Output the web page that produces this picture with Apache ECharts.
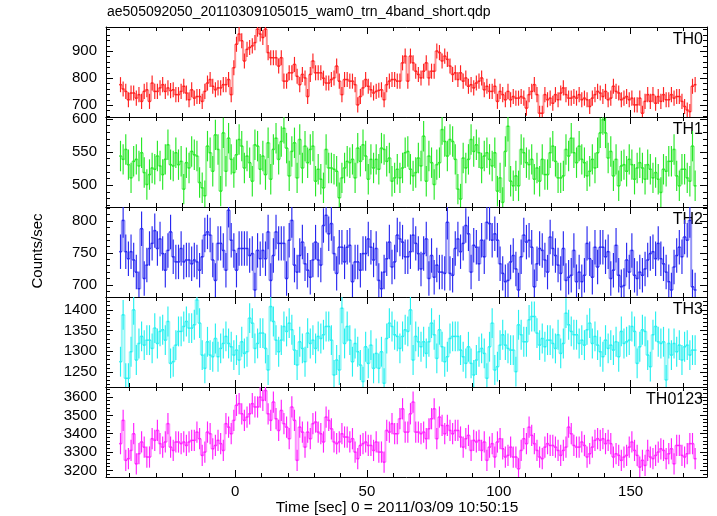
<!DOCTYPE html>
<html><head><meta charset="utf-8">
<script src="https://cdn.jsdelivr.net/npm/echarts@6/dist/echarts.min.js"></script>
<style>html,body{margin:0;padding:0;background:#fff}#c{width:717px;height:516px}</style>
</head><body><div id="c"></div>
<script>
const chartTitle = 'ae505092050_20110309105015_wam0_trn_4band_short.qdp';
const xAxisTitle = 'Time [sec] 0 = 2011/03/09 10:50:15';
const yAxisTitle = 'Counts/sec';
const bandNames = ['TH0', 'TH1', 'TH2', 'TH3', 'TH0123'];
const tStart = -43.5;   // centre of first 1-s bin
const binWidth = 1;
const xMin = -49, xMax = 179;
const xMajorTicks = [0, 50, 100, 150];

const th0 = [
776,760,751,720,745,745,726,739,714,751,757,714,782,751,751,764,776,751,764,754,
757,739,739,751,770,745,720,757,726,732,732,714,751,782,795,770,757,764,764,776,
776,795,739,839,926,964,939,864,907,914,920,932,982,964,951,982,895,876,876,876,
845,876,789,789,820,820,851,807,776,814,801,732,814,864,820,820,820,800,782,782,
795,801,845,789,739,795,795,789,789,776,701,732,764,795,770,757,745,751,755,757,
720,776,789,795,795,789,789,857,882,789,
882,857,826,814,801,826,857,801,826,826,901,895,864,882,870,845,814,820,795,820,
789,801,770,776,764,782,789,801,757,770,751,751,770,714,751,739,720,751,720,732,
726,726,732,726,689,739,751,776,739,670,670,739,720,726,707,739,720,745,764,739,
726,726,732,726,739,720,726,720,695,726,739,751,745,732,751,720,726,770,751,745,
720,726,732,720,726,701,701,726,670,714,739,714,739,707,732,714,739,720,720,739,
726,732,732,714,695,682,676,770,776];

const th1 = [
544,539,554,531,511,536,539,529,549,
519,501,516,526,524,544,529,516,539,561,
531,529,549,531,536,494,534,526,551,
546,544,504,496,484,559,549,521,576,
554,491,579,521,571,539,519,546,569,559,
526,544,534,506,561,559,524,544,516,564,
509,554,571,539,566,586,556,514,551,
564,511,569,526,559,534,554,559,506,
524,509,496,554,526,526,524,521,481,
511,526,536,534,539,511,556,536,561,
544,509,539,526,539,524,556,554,536,541,
506,511,524,511,526,549,551,
524,514,519,541,529,574,506,544,534,
501,531,534,584,566,544,569,566,539,494,
479,541,526,539,569,551,561,549,526,
544,549,539,529,549,491,511,474,551,589,
506,499,514,499,554,549,534,531,539,509,
526,506,539,516,516,549,559,536,511,
511,514,554,544,571,549,534,559,539,
534,514,521,539,526,549,579,599,579,541,
551,514,539,499,529,531,521,539,531,
509,526,534,526,509,531,524,511,519,509,
489,524,521,536,536,554,514,499,524,
524,511,506,559,499];

const th2 = [
752,801,752,741,752,739,720,694,788,
710,731,757,765,785,757,772,749,723,754,
783,744,736,736,757,736,739,739,733,
739,736,723,744,778,783,778,739,707,
765,765,754,723,817,770,754,723,757,757,
757,757,746,749,692,754,741,754,741,
783,707,746,783,765,765,765,710,770,
801,731,720,746,767,733,723,712,739,
767,739,731,793,809,780,796,749,718,759,
759,736,759,762,705,736,736,723,749,
749,772,759,739,757,707,694,720,741,
767,728,736,778,772,767,744,744,
752,778,765,749,725,749,772,710,746,
712,731,720,720,718,798,718,715,757,772,
752,765,793,780,720,762,759,733,770,
744,798,796,770,780,770,733,718,705,
707,736,746,725,692,744,778,767,770,759,
697,733,757,754,739,720,775,757,746,
731,718,757,707,712,715,754,705,720,
705,715,765,741,712,759,728,759,759,744,
752,710,723,762,715,697,699,739,720,
754,715,710,720,715,725,739,749,752,
741,765,741,733,720,705,692,728,746,759,
744,775,770,801,697,692];

const th3 = [
1275,1388,1235,1235,1299,1400,1279,1319,1336,
1315,1327,1327,1307,1356,1319,1348,1352,1327,1372,
1271,1275,1315,1348,1348,1360,1372,1356,1356,
1364,1424,1368,1291,1259,1323,1291,1287,1331,
1287,1307,1319,1336,1319,1311,1291,1303,1279,1323,
1295,1299,1380,1368,1307,1319,1344,1344,1307,
1255,1408,1372,1327,1299,1327,1360,1348,1368,1352,
1303,1267,1323,1307,1275,1344,1319,1327,1307,
1336,1331,1340,1360,1360,1327,1243,1279,1255,1404,
1319,1360,1327,1275,1319,1299,1267,1227,1311,
1271,1315,1259,1295,1259,1299,1223,1331,1368,1360,
1340,1336,1307,1336,1352,1348,
1400,1279,1336,1323,1311,1323,1295,1323,1368,
1340,1283,1352,1311,1275,1287,1331,1336,1336,1336,
1303,1287,1271,1311,1271,1243,1279,1299,1307,
1295,1235,1311,1368,1255,1263,1315,1340,1315,
1307,1303,1303,1251,1364,1340,1323,1323,1376,1384,
1384,1344,1315,1331,1311,1327,1327,1319,1307,
1340,1295,1319,1392,1364,1348,1340,1340,1319,
1327,1315,1352,1368,1319,1336,1315,1299,1287,1327,
1307,1315,1303,1323,1287,1348,1319,1323,1327,
1360,1348,1271,1311,1352,1348,1291,1263,1340,
1360,1323,1319,1323,1231,1319,1291,1319,1299,1315,
1279,1311,1315,1291,1303,1303];

const th0123 = [
3346,3473,3255,3264,3309,3400,3236,3291,3355,
3327,3273,3273,3373,3364,3418,3346,3327,3355,3455,
3327,3309,3355,3355,3346,3355,3336,3355,3364,
3364,3409,3373,3282,3300,3409,3400,3318,3336,
3364,3346,3309,3455,3436,3400,3473,3555,3564,3509,
3473,3491,3509,3564,3546,3546,3600,3582,3636,3509,
3473,3573,3482,3418,3527,3455,3436,3373,3546,
3473,3255,3436,3409,3327,3409,3373,3455,3464,
3409,3400,3355,3491,3473,3427,3355,3346,3355,3400,
3382,3382,3355,3373,3300,3264,3336,3346,3355,
3336,3336,3309,3355,3300,3300,3245,3418,3409,3455,
3400,3400,3482,3536,3409,3409,
3509,3573,3409,3409,3400,3409,3373,3427,3482,
3536,3373,3491,3445,3400,3445,3418,3400,3418,3418,
3382,3327,3373,3391,3309,3364,3355,3364,3309,
3355,3255,3327,3346,3273,3355,3373,3318,3273,3282,
3327,3273,3273,3209,3309,3373,3346,3436,3391,
3346,3309,3273,3264,3327,3346,3336,3336,3327,3309,
3282,3309,3327,3436,3400,3336,3327,3327,3355,
3336,3273,3291,3327,3364,3373,3364,3373,3346,3364,
3346,3273,3291,3282,3255,3273,3282,3327,3355,
3309,3282,3218,3255,3227,3309,3273,3264,3282,3300,
3318,3309,3264,3291,3318,3236,3336,3336,3282,
3273,3291,3346,3346,3264];

// typical 1-sigma error bar half-length per band (counts/sec)
const errors = [28, 23, 27, 36, 58];
const yMins = [656, 467, 681, 1214, 3164];
const yMaxs = [990, 603, 822, 1431, 3655];
const yMajorTicks = [[700, 800, 900], [500, 550, 600], [700, 750, 800], [1250, 1300, 1350, 1400], [3200, 3300, 3400, 3500, 3600]];
const yMinorSteps = [20, 10, 10, 10, 20];
const xMinorStep = 10;

const series = [th0, th1, th2, th3, th0123];
const colors = ['#ff2020', '#28e828', '#2828f0', '#28f0f0', '#ff20ff'];

const FONT = '"Liberation Sans", Arial, Helvetica, sans-serif';
const gridTops = [27, 117, 207, 297, 387];
const gridH = 90, gridL = 106, gridR = 10;

function ticksBetween(lo, hi, step, exclude) {
  const out = [];
  for (let v = Math.ceil(lo / step) * step; v <= hi; v += step) {
    if (exclude.indexOf(v) < 0) out.push(v);
  }
  return out;
}
const xMinorTicks = ticksBetween(xMin, xMax, xMinorStep, xMajorTicks);

const grids = [], xAxes = [], yAxes = [], seriesOpt = [], graphics = [];
const axisLineStyle = { show: true, onZero: false, lineStyle: { color: '#000', width: 1 } };
const noLine = { show: false, onZero: false };
const plain = v => String(v);

series.forEach((vals, g) => {
  grids.push({ left: gridL, right: gridR, top: gridTops[g], height: gridH });
  const last = g === series.length - 1;
  const xBase = { type: 'value', gridIndex: g, min: xMin, max: xMax, splitLine: { show: false } };
  const xi = xAxes.length;
  xAxes.push(Object.assign({}, xBase, {
    position: 'bottom', axisLine: axisLineStyle,
    axisTick: { show: true, inside: true, length: 7, customValues: xMajorTicks, lineStyle: { color: '#000' } },
    axisLabel: { show: last, customValues: xMajorTicks, formatter: plain, color: '#000', fontSize: 15, fontFamily: FONT, margin: 7 }
  }));
  xAxes.push(Object.assign({}, xBase, {
    position: 'bottom', axisLine: noLine,
    axisTick: { show: true, inside: true, length: 4, customValues: xMinorTicks, lineStyle: { color: '#000' } },
    axisLabel: { show: false }
  }));
  xAxes.push(Object.assign({}, xBase, {
    position: 'top', axisLine: axisLineStyle,
    axisTick: { show: true, inside: true, length: 7, customValues: xMajorTicks, lineStyle: { color: '#000' } },
    axisLabel: { show: false }
  }));
  xAxes.push(Object.assign({}, xBase, {
    position: 'top', axisLine: noLine,
    axisTick: { show: true, inside: true, length: 4, customValues: xMinorTicks, lineStyle: { color: '#000' } },
    axisLabel: { show: false }
  }));
  const yMinor = ticksBetween(yMins[g], yMaxs[g], yMinorSteps[g], yMajorTicks[g]);
  const yBase = { type: 'value', gridIndex: g, min: yMins[g], max: yMaxs[g], splitLine: { show: false }, scale: true };
  const yi = yAxes.length;
  yAxes.push(Object.assign({}, yBase, {
    position: 'left', axisLine: axisLineStyle,
    axisTick: { show: true, inside: true, length: 7, customValues: yMajorTicks[g], lineStyle: { color: '#000' } },
    axisLabel: { show: true, customValues: yMajorTicks[g], formatter: plain, color: '#000', fontSize: 15, fontFamily: FONT, margin: 9 }
  }));
  yAxes.push(Object.assign({}, yBase, {
    position: 'left', axisLine: noLine,
    axisTick: { show: true, inside: true, length: 4, customValues: yMinor, lineStyle: { color: '#000' } },
    axisLabel: { show: false }
  }));
  yAxes.push(Object.assign({}, yBase, {
    position: 'right', axisLine: axisLineStyle,
    axisTick: { show: true, inside: true, length: 7, customValues: yMajorTicks[g], lineStyle: { color: '#000' } },
    axisLabel: { show: false }
  }));
  yAxes.push(Object.assign({}, yBase, {
    position: 'right', axisLine: noLine,
    axisTick: { show: true, inside: true, length: 4, customValues: yMinor, lineStyle: { color: '#000' } },
    axisLabel: { show: false }
  }));

  const color = colors[g];
  const err = errors[g];
  const data = vals.map((v, i) => [tStart + i * binWidth, v]);
  seriesOpt.push({
    type: 'custom', xAxisIndex: xi, yAxisIndex: yi, data: data,
    renderItem: function (params, api) {
      const i = params.dataIndex;
      const t = api.value(0), v = api.value(1);
      const pL = api.coord([t - binWidth / 2, v]);
      const pR = api.coord([t + binWidth / 2, v]);
      const pT = api.coord([t, v + err]);
      const pB = api.coord([t, v - err]);
      const children = [
        { type: 'line', shape: { x1: pL[0], y1: pL[1], x2: pR[0], y2: pR[1] }, style: { stroke: color, lineWidth: 1.5 } },
        { type: 'line', shape: { x1: pT[0], y1: pT[1], x2: pB[0], y2: pB[1] }, style: { stroke: color, lineWidth: 1.15 } }
      ];
      if (i < vals.length - 1) {
        const pN = api.coord([t + binWidth / 2, vals[i + 1]]);
        children.push({ type: 'line', shape: { x1: pR[0], y1: pR[1], x2: pN[0], y2: pN[1] }, style: { stroke: color, lineWidth: 2, opacity: 0.5 } });
      }
      const cs = params.coordSys;
      return { type: 'group', children: children, clipPath: { type: 'rect', shape: { x: cs.x, y: cs.y, width: cs.width, height: cs.height } } };
    }
  });

  graphics.push({
    type: 'text', right: gridR + 4, top: gridTops[g] + 5,
    style: { text: bandNames[g], fill: '#000', font: '16px ' + FONT }
  });
});

graphics.push({ type: 'text', left: 107, top: 5, style: { text: chartTitle, fill: '#000', font: '14px ' + FONT } });
graphics.push({ type: 'text', x: 397, y: 500, style: { text: xAxisTitle, fill: '#000', font: '15.5px ' + FONT, textAlign: 'center' } });
graphics.push({ type: 'text', x: 30, y: 251, rotation: Math.PI / 2, style: { text: yAxisTitle, fill: '#000', font: '15px ' + FONT, textAlign: 'center' } });

const chart = echarts.init(document.getElementById('c'), null, { renderer: 'canvas' });
chart.setOption({
  animation: false,
  backgroundColor: '#fff',
  grid: grids, xAxis: xAxes, yAxis: yAxes, series: seriesOpt, graphic: graphics
});
</script></body></html>
